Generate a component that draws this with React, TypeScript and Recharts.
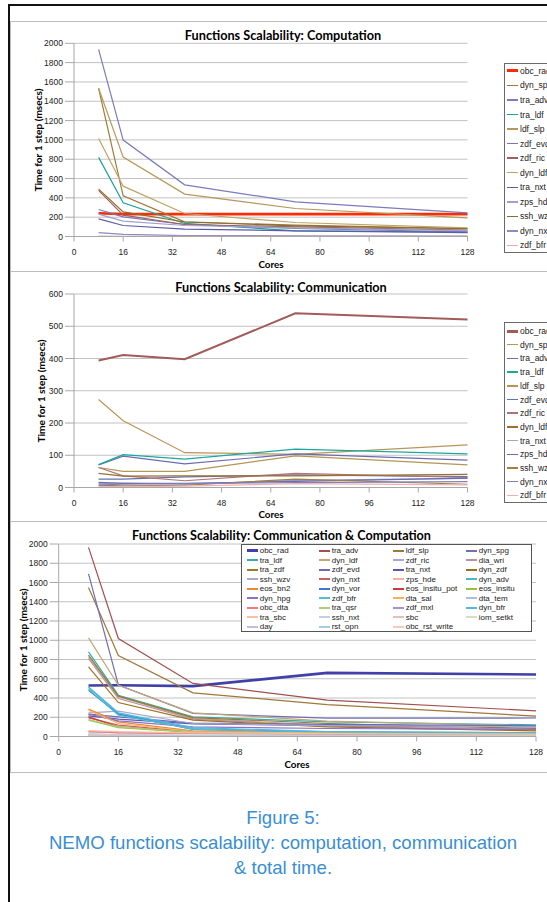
import { LineChart, Line, XAxis, YAxis, CartesianGrid, Legend } from "recharts"

// x positions of the measurements (number of cores)
const cores = [8, 16, 36, 72, 128]
const coreTicks = [0, 16, 32, 48, 64, 80, 96, 112, 128]
const timeTicks = [0, 200, 400, 600, 800, 1000, 1200, 1400, 1600, 1800, 2000]
const commTicks = [0, 100, 200, 300, 400, 500, 600]

// --- Computation (msecs) ---
const compNames = ["obc_rad", "dyn_spg", "tra_adv", "tra_ldf", "ldf_slp", "zdf_evd", "zdf_ric", "dyn_ldf", "tra_nxt", "zps_hde", "ssh_wzv", "dyn_nxt", "zdf_bfr"]
const compObcRad = [240, 232, 232, 232, 232]
const compDynSpg = [1534, 421, 152, 117, 83]
const compTraAdv = [1938, 998, 535, 359, 245]
const compTraLdf = [819, 349, 135, 59, 48]
const compLdfSlp = [1534, 822, 439, 290, 193]
const compZdfEvd = [280, 204, 124, 83, 48]
const compZdfRic = [477, 221, 124, 100, 66]
const compDynLdf = [1015, 521, 238, 145, 90]
const compTraNxt = [183, 114, 76, 59, 41]
const compZpsHde = [231, 159, 114, 90, 60]
const compSshWzv = [490, 255, 150, 110, 80]
const compDynNxt = [41, 21, 10, 7, 5]
const compZdfBfr = [3, 2, 1, 1, 1]
const compValues = [compObcRad, compDynSpg, compTraAdv, compTraLdf, compLdfSlp, compZdfEvd, compZdfRic, compDynLdf, compTraNxt, compZpsHde, compSshWzv, compDynNxt, compZdfBfr]
const compColors = ["#ff2a00", "#9e7b3a", "#7c7cbc", "#1aa39a", "#b8975a", "#7878b8", "#a0605f", "#c0a468", "#5c5ca8", "#a0a0cc", "#8e6c2e", "#8a8ac4", "#f2aaaa"]

// --- Communication (msecs) ---
const commNames = compNames
const commObcRad = [394, 411, 398, 540, 521]
const commDynSpg = [273, 207, 108, 103, 132]
const commTraAdv = [70, 97, 73, 104, 85]
const commTraLdf = [71, 102, 88, 119, 104]
const commLdfSlp = [62, 50, 50, 98, 70]
const commZdfEvd = [26, 26, 33, 39, 34]
const commZdfRic = [62, 36, 21, 44, 31]
const commDynLdf = [44, 35, 36, 36, 41]
const commTraNxt = [12, 14, 10, 22, 28]
const commZpsHde = [16, 13, 13, 19, 29]
const commSshWzv = [7, 5, 7, 26, 10]
const commDynNxt = [8, 10, 12, 15, 18]
const commZdfBfr = [3, 3, 4, 12, 8]
const commValues = [commObcRad, commDynSpg, commTraAdv, commTraLdf, commLdfSlp, commZdfEvd, commZdfRic, commDynLdf, commTraNxt, commZpsHde, commSshWzv, commDynNxt, commZdfBfr]
const commColors = ["#a35a5a", "#b89658", "#6b6bb0", "#1ca8a0", "#b59552", "#6272b2", "#b07474", "#9a7030", "#a4a4d0", "#6b6bb0", "#a08040", "#8080c0", "#f0b0b0"]

// --- Communication & Computation (msecs) ---
const totalNames = [
  "obc_rad", "tra_adv", "ldf_slp", "dyn_spg",
  "tra_ldf", "dyn_ldf", "zdf_ric", "dia_wri",
  "tra_zdf", "zdf_evd", "tra_nxt", "dyn_zdf",
  "ssh_wzv", "dyn_nxt", "zps_hde", "dyn_adv",
  "eos_bn2", "dyn_vor", "eos_insitu_pot", "eos_insitu",
  "dyn_hpg", "zdf_bfr", "dta_sal", "dta_tem",
  "obc_dta", "tra_qsr", "zdf_mxl", "dyn_bfr",
  "tra_sbc", "ssh_nxt", "sbc", "iom_setkt",
  "day", "rst_opn", "obc_rst_write",
]
const totObcRad = [530, 532, 523, 661, 644]
const totTraAdv = [1965, 1018, 551, 377, 267]
const totLdfSlp = [1548, 841, 454, 332, 212]
const totDynSpg = [1690, 535, 240, 190, 192]
const totTraLdf = [880, 429, 204, 152, 121]
const totDynLdf = [1025, 533, 246, 160, 110]
const totZdfRic = [828, 412, 187, 118, 73]
const totDiaWri = [810, 395, 180, 107, 66]
const totTraZdf = [845, 419, 197, 135, 83]
const totZdfEvd = [232, 204, 139, 125, 111]
const totTraNxt = [215, 180, 132, 114, 100]
const totDynZdf = [724, 353, 170, 100, 59]
const totSshWzv = [246, 263, 135, 114, 100]
const totDynNxt = [194, 118, 48, 38, 28]
const totZpsHde = [48, 45, 31, 26, 22]
const totDynAdv = [509, 239, 83, 48, 38]
const totEosBn2 = [284, 152, 59, 38, 24]
const totDynVor = [481, 232, 73, 45, 35]
const totEosInsituPot = [204, 100, 45, 31, 24]
const totEosInsitu = [170, 93, 42, 31, 21]
const totDynHpg = [232, 163, 100, 83, 73]
const totZdfBfr = [492, 222, 76, 42, 31]
const totDtaSal = [273, 135, 52, 35, 25]
const totDtaTem = [48, 40, 30, 25, 20]
const totObcDta = [52, 38, 31, 28, 24]
const totTraQsr = [177, 100, 45, 32, 22]
const totZdfMxl = [20, 12, 8, 6, 5]
const totDynBfr = [516, 246, 93, 50, 40]
const totTraSbc = [62, 50, 38, 30, 25]
const totSshNxt = [30, 20, 12, 10, 8]
const totSbc = [25, 18, 12, 10, 8]
const totIomSetkt = [15, 10, 8, 6, 5]
const totDay = [10, 8, 6, 5, 5]
const totRstOpn = [5, 4, 3, 3, 3]
const totObcRstWrite = [3, 2, 2, 2, 2]
const totalValues = [
  totObcRad, totTraAdv, totLdfSlp, totDynSpg,
  totTraLdf, totDynLdf, totZdfRic, totDiaWri,
  totTraZdf, totZdfEvd, totTraNxt, totDynZdf,
  totSshWzv, totDynNxt, totZpsHde, totDynAdv,
  totEosBn2, totDynVor, totEosInsituPot, totEosInsitu,
  totDynHpg, totZdfBfr, totDtaSal, totDtaTem,
  totObcDta, totTraQsr, totZdfMxl, totDynBfr,
  totTraSbc, totSshNxt, totSbc, totIomSetkt,
  totDay, totRstOpn, totObcRstWrite,
]
const totalColors = [
  "#4040a8", "#a05050", "#a07838", "#7070b0",
  "#30b0a8", "#c0a878", "#a8a8d0", "#c09098",
  "#a07828", "#6a6ab8", "#5858b0", "#9c7020",
  "#a8a8d0", "#d06060", "#f8b0a0", "#48b8c8",
  "#f08838", "#3c78d0", "#d03838", "#98c040",
  "#9070c0", "#50c0d0", "#f8b060", "#a8c0e0",
  "#f07878", "#a8d078", "#a890d8", "#50b8e0",
  "#f8c0a0", "#c0d0e8", "#e0c0c0", "#d0e0c0",
  "#c8b8e8", "#a0d0e8", "#f8c8b8",
]

const FONT = "'Liberation Sans', Arial, sans-serif"
const TITLE_FONT = "Lato, 'Liberation Sans', sans-serif"
const CHART_LEFT = 10
const CHART_WIDTH = 537

function buildRows(names: string[], values: number[][]) {
  return cores.map((c, i) => {
    const row: Record<string, number> = { cores: c }
    names.forEach((n, k) => {
      row[n] = values[k][i]
    })
    return row
  })
}

function SideLegend({ names, colors, rowTop, rowGap }: { names: string[]; colors: string[]; rowTop: number; rowGap: number }) {
  return (
    <div style={{ position: "relative", width: "100%", height: "100%", border: "1px solid #6a6a6a", boxSizing: "border-box", background: "#fff" }}>
      {names.map((n, i) => (
        <div
          key={n}
          style={{ position: "absolute", left: 2, top: rowTop + i * rowGap - 6, height: 12, display: "flex", alignItems: "center", whiteSpace: "nowrap" }}
        >
          <span style={{ display: "inline-block", width: 11, height: i === 0 ? 3 : 1.5, background: colors[i], marginRight: 2 }} />
          <span style={{ fontSize: 8.5, fontFamily: FONT, color: "#222" }}>{n}</span>
        </div>
      ))}
    </div>
  )
}

function GridLegend({ names, colors }: { names: string[]; colors: string[] }) {
  const colX = [5, 77, 151, 224]
  return (
    <div style={{ position: "relative", width: "100%", height: "100%", border: "1px solid #555", boxSizing: "border-box", background: "#fff" }}>
      {names.map((n, i) => (
        <div
          key={n}
          style={{ position: "absolute", left: colX[i % 4], top: 5.5 + Math.floor(i / 4) * 9.5 - 5, height: 10, display: "flex", alignItems: "center", whiteSpace: "nowrap" }}
        >
          <span style={{ display: "inline-block", width: 11, height: i === 0 ? 3 : 2, background: colors[i], marginRight: 2 }} />
          <span style={{ fontSize: 8, fontFamily: FONT, color: "#222" }}>{n}</span>
        </div>
      ))}
    </div>
  )
}

type PanelProps = {
  top: number
  height: number
  plotLeft: number
  plotRight: number
  plotTop: number
  plotBottom: number
  yMax: number
  yTicks: number[]
  names: string[]
  values: number[][]
  colors: string[]
  thick: number
  legend: { left: number; top: number; width: number; height: number; content: JSX.Element }
}

function Panel(p: PanelProps) {
  const rows = buildRows(p.names, p.values)
  const tickStyle = { fontSize: 8.5, fontFamily: FONT, fill: "#222" }
  return (
    <div style={{ position: "absolute", left: CHART_LEFT, top: p.top }}>
      <LineChart
        width={CHART_WIDTH}
        height={p.height}
        data={rows}
        margin={{ top: p.plotTop - p.top, right: CHART_LEFT + CHART_WIDTH - p.plotRight, left: 0, bottom: 0 }}
      >
        <CartesianGrid vertical={false} stroke="#c2c2c2" />
        <XAxis
          type="number"
          dataKey="cores"
          domain={[0, 128]}
          ticks={coreTicks}
          interval={0}
          height={p.top + p.height - p.plotBottom}
          tickSize={5}
          tickMargin={7}
          stroke="#a8a8a8"
          tick={tickStyle}
        />
        <YAxis
          domain={[0, p.yMax]}
          ticks={p.yTicks}
          interval={0}
          width={p.plotLeft - CHART_LEFT}
          tickSize={9}
          tickMargin={2}
          stroke="#a8a8a8"
          tick={tickStyle}
        />
        <Legend
          layout="vertical"
          align="center"
          verticalAlign="middle"
          wrapperStyle={{ left: p.legend.left - CHART_LEFT, top: p.legend.top - p.top, width: p.legend.width, height: p.legend.height }}
          content={() => p.legend.content}
        />
        {p.names.map((n, i) => (
          <Line
            key={n}
            type="linear"
            dataKey={n}
            name={n}
            stroke={p.colors[i]}
            strokeWidth={i === 0 ? p.thick : 1.2}
            dot={false}
            isAnimationActive={false}
          />
        ))}
      </LineChart>
    </div>
  )
}

function Text({ x, y, size, bold, children, color, font, rotate }: { x: number; y: number; size: number; bold?: boolean; children: string; color?: string; font?: string; rotate?: boolean }) {
  return (
    <div
      style={{
        position: "absolute",
        left: x,
        top: y,
        transform: `translate(-50%, -50%)${rotate ? " rotate(-90deg)" : ""}`,
        fontSize: size,
        fontWeight: bold ? 700 : 400,
        fontFamily: font || TITLE_FONT,
        color: color || "#000",
        whiteSpace: "nowrap",
        lineHeight: 1,
      }}
    >
      {children}
    </div>
  )
}

function HLine({ y, color, w }: { y: number; color: string; w: number }) {
  return <div style={{ position: "absolute", left: 10, top: y, width: 540, height: w, background: color }} />
}

export default function App() {
  return (
    <div style={{ position: "fixed", left: 0, top: 0, width: 547, height: 902, overflow: "hidden", background: "#fff" }}>
      <Panel
        top={21}
        height={250}
        plotLeft={74}
        plotRight={467.5}
        plotTop={43.3}
        plotBottom={236.5}
        yMax={2000}
        yTicks={timeTicks}
        names={compNames}
        values={compValues}
        colors={compColors}
        thick={2.6}
        legend={{ left: 504, top: 62.7, width: 60, height: 190, content: <SideLegend names={compNames} colors={compColors} rowTop={7.2} rowGap={14.55} /> }}
      />
      <Panel
        top={271}
        height={250}
        plotLeft={74}
        plotRight={467.5}
        plotTop={294}
        plotBottom={487.5}
        yMax={600}
        yTicks={commTicks}
        names={commNames}
        values={commValues}
        colors={commColors}
        thick={2}
        legend={{ left: 504, top: 322, width: 60, height: 181, content: <SideLegend names={commNames} colors={commColors} rowTop={8} rowGap={13.7} /> }}
      />
      <Panel
        top={521}
        height={251}
        plotLeft={58.7}
        plotRight={536}
        plotTop={544}
        plotBottom={736.5}
        yMax={2000}
        yTicks={timeTicks}
        names={totalNames}
        values={totalValues}
        colors={totalColors}
        thick={2.6}
        legend={{ left: 240.7, top: 544, width: 291, height: 88, content: <GridLegend names={totalNames} colors={totalColors} /> }}
      />

      <Text x={283} y={35} size={12.7} bold>Functions Scalability: Computation</Text>
      <Text x={38} y={140} size={10.1} bold rotate>Time for 1 step (msecs)</Text>
      <Text x={271} y={265} size={9.8} bold>Cores</Text>

      <Text x={281} y={287} size={12.7} bold>Functions Scalability: Communication</Text>
      <Text x={41} y={391} size={10.1} bold rotate>Time for 1 step (msecs)</Text>
      <Text x={271} y={515} size={9.8} bold>Cores</Text>

      <Text x={281.5} y={536} size={12.6} bold>Functions Scalability: Communication &amp; Computation</Text>
      <Text x={23} y={640} size={10.1} bold rotate>Time for 1 step (msecs)</Text>
      <Text x={297} y={765} size={9.8} bold>Cores</Text>

      <HLine y={21} color="#bdbdbd" w={1} />
      <HLine y={271} color="#bdbdbd" w={1} />
      <HLine y={521} color="#bdbdbd" w={1} />
      <HLine y={772} color="#bdbdbd" w={1} />
      <div style={{ position: "absolute", left: 8, top: 4, width: 560, height: 2, background: "#111" }} />
      <div style={{ position: "absolute", left: 8, top: 4, width: 2, height: 900, background: "#111" }} />
      <div style={{ position: "absolute", left: 10, top: 21, width: 1, height: 751, background: "#bdbdbd" }} />

      <Text x={283} y={818} size={18.6} font={FONT} color="#3a8ed2">Figure 5:</Text>
      <Text x={283} y={843} size={18.6} font={FONT} color="#3a8ed2">NEMO functions scalability: computation, communication</Text>
      <Text x={283} y={868} size={18.6} font={FONT} color="#3a8ed2">&amp; total time.</Text>
    </div>
  )
}
